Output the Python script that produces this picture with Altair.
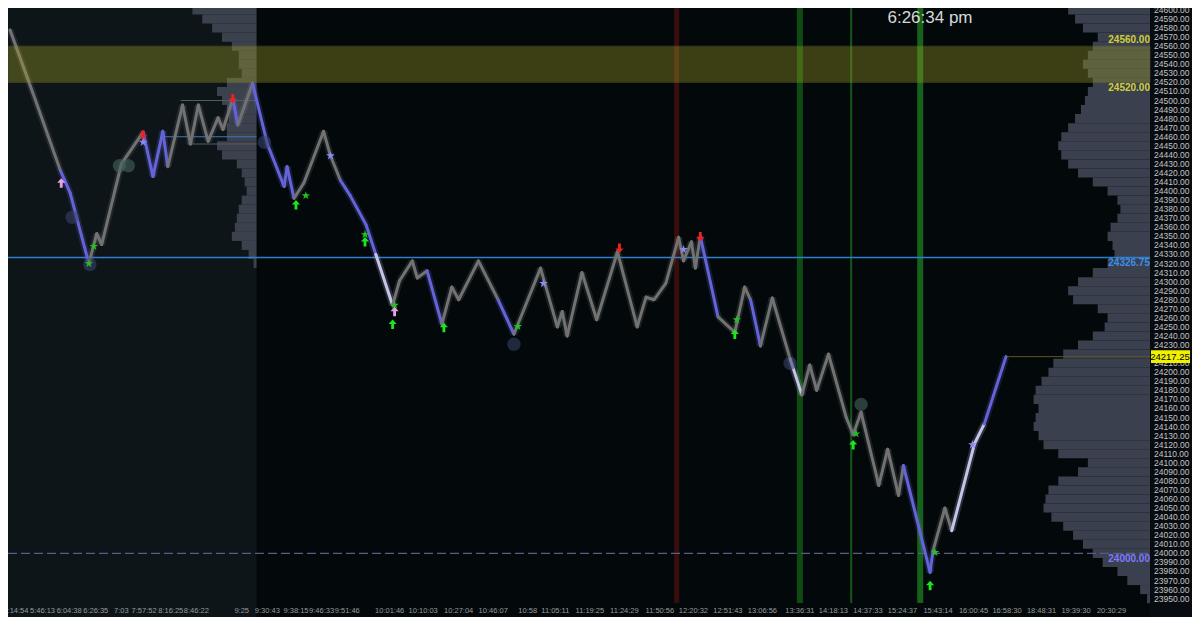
import altair as alt
import pandas as pd

W, H = 1142, 595
X_MAX = 1158          # last bar index shown in plot
SESSION_END = 252     # bar index where previous session ends
P_LO, P_HI = 23945.2, 24602.15
FONT = "Liberation Sans"

# ---------------- price path (pivot bars) ----------------
PATH_X = [2, 25, 53, 63, 82, 90, 95, 115, 137, 147, 157, 162, 177, 185, 193, 203, 213, 218, 228, 233,
          248, 263, 280, 283, 290, 300, 320, 327, 337, 347, 363, 373, 390, 397, 410, 415, 425, 440, 450, 457,
          477, 497, 513, 540, 557, 562, 567, 582, 597, 618, 638, 647, 655, 667, 680, 685, 693, 697, 702, 720,
          737, 747, 753, 763, 775, 793, 805, 813, 820, 832, 850, 857, 865, 883, 892, 903, 908, 935, 938, 950,
          957, 980, 990, 1012]
PATH_P = [24578, 24509, 24423, 24398, 24320, 24353, 24341, 24430, 24465, 24416, 24466, 24427, 24495, 24452,
          24495, 24455, 24481, 24468, 24502, 24473, 24519, 24452, 24405, 24427, 24392, 24409, 24466, 24439,
          24412, 24395, 24363, 24330, 24274, 24301, 24323, 24304, 24312, 24253, 24294, 24280, 24323, 24280,
          24242, 24315, 24250, 24267, 24240, 24310, 24258, 24333, 24250, 24283, 24280, 24298, 24349, 24323,
          24344, 24315, 24350, 24261, 24244, 24294, 24280, 24229, 24282, 24215, 24175, 24208, 24180, 24220,
          24150, 24131, 24156, 24075, 24115, 24064, 24097, 23979, 24003, 24050, 24025, 24121, 24143, 24217.25]
SEG_KIND = list("ggbbggggbb" "bgggggggbg" "bbbbggggbb" "bwggggbggg" "gbgggggggg"
                "ggggggggbg" "ggbggwgggg" "ggggggbbgg" "wwb")

# ---------------- signals ----------------
UP_PINK_X = [54, 392]
UP_PINK_P = [24409, 24267]
UP_GREEN_X = [292, 362, 390, 442, 737, 857, 935]
UP_GREEN_P = [24385, 24344, 24253, 24249.5, 24242, 24120, 23964.5]
DN_RED_X = [137, 228, 620, 702]
DN_RED_P = [24462, 24502, 24337, 24349.5]
STAR_G_X = [82, 87, 302, 362, 392, 517, 739, 860, 940]
STAR_G_P = [24320, 24339, 24395, 24352, 24274, 24250.5, 24258, 24132, 24001]
STAR_L_X = [137, 327, 543, 685, 978]
STAR_L_P = [24454, 24439, 24298, 24335.5, 24120]
CIRC_B_X = [65, 83, 260, 513, 793]
CIRC_B_P = [24371, 24319, 24454, 24231, 24210]
CIRC_T_X = [113, 122, 865]
CIRC_T_P = [24428, 24428, 24164.5]

# ---------------- volume profiles ----------------
LEFT_P = list(range(24600, 24310, -10))
LEFT_W = [65, 55, 45, 35, 25, 18, 18, 15, 30, 40, 35, 30, 28, 30, 30, 40, 35, 20, 15, 12, 10, 15, 18, 20,
          22, 25, 15, 8, 3]
RIGHT_P = list(range(24600, 23940, -10))
RIGHT_W = [83, 76, 68, 53, 58, 63, 68, 63, 58, 63, 66, 70, 76, 83, 90, 93, 90, 83, 73, 58,
           43, 33, 30, 33, 40, 43, 38, 36, 43, 58, 73, 83, 78, 53, 43, 46, 58, 73, 88, 98,
           103, 110, 116, 118, 113, 116, 118, 113, 108, 93, 63, 73, 93, 103, 106, 108, 100, 88, 78, 68,
           58, 48, 33, 23, 10, 3]

# ---------------- levels ----------------
ZONE_HI, ZONE_LO = 24560, 24520
BLUE_LEVEL = 24326.75
ROUND_LEVEL = 24000
LAST_PRICE = 24217.25
SHORT_LEVELS_P = [24460, 24500, 24452]
SHORT_LEVELS_X = [155, 175, 182]
SHORT_LEVELS_C = ["#3a7ac0", "#555a60", "#555a60"]

VLINE_X = [678, 803, 855, 925]
VLINE_C = ["#3a0d0d", "#0f4a12", "#17561a", "#17621a"]
VLINE_W = [5, 6, 2, 6]

# ---------------- axis ticks ----------------
TICK_POS = [8, 35, 62, 89, 115, 138, 165, 191, 237, 263, 292, 318, 344, 387, 421, 457, 492, 527, 555,
            590, 625, 661, 695, 730, 765, 803, 837, 872, 907, 943, 979, 1013, 1048, 1083, 1119]
TICK_LBL = ["5:14:54", "5:46:13", "6:04:38", "6:26:35", "7:03", "7:57:52", "8:16:25", "8:46:22", "9:25",
            "9:30:43", "9:38:15", "9:46:33", "9:51:46", "10:01:46", "10:10:03", "10:27:04", "10:46:07",
            "10:58", "11:05:11", "11:19:25", "11:24:29", "11:50:56", "12:20:32", "12:51:43", "13:06:56",
            "13:36:31", "14:18:13", "14:37:33", "15:24:37", "15:43:14", "16:00:45", "16:58:30", "18:48:31",
            "19:39:30", "20:30:29"]
PRICE_TICKS = list(range(23950, 24601, 10))
CLOCK = "6:26:34 pm"

# ======================================================
STAR = ("M0,-1L0.2245,-0.309L0.951,-0.309L0.363,0.118L0.588,0.809L0,0.382L-0.588,0.809"
        "L-0.363,0.118L-0.951,-0.309L-0.2245,-0.309Z")
ARROW_UP = "M0,-1L0.85,-0.05L0.3,-0.05L0.3,1L-0.3,1L-0.3,-0.05L-0.85,-0.05Z"
ARROW_DN = "M0,1L0.85,0.05L0.3,0.05L0.3,-1L-0.3,-1L-0.3,0.05L-0.85,0.05Z"

XS = alt.Scale(domain=[0, X_MAX], nice=False, zero=False)
YS = alt.Scale(domain=[P_LO, P_HI], nice=False, zero=False)


def X(f="x"):
    return alt.X(f"{f}:Q", scale=XS, axis=None, title=None)


def Y(f="p"):
    return alt.Y(f"{f}:Q", scale=YS, axis=None, title=None)


# session background and price-scale column
sess = alt.Chart(pd.DataFrame({"x": [0], "x2": [SESSION_END]})).mark_rect(color="#0e1519").encode(
    x=X(), x2="x2:Q", y=alt.value(0), y2=alt.value(H + 14))
col = alt.Chart(pd.DataFrame({"t": ["scale"]})).mark_rect(color="#080b10").encode(
    x=alt.value(W), x2=alt.value(W + 42), y=alt.value(0), y2=alt.value(H + 14))

# profiles
lp = pd.DataFrame({"x": [SESSION_END - w for w in LEFT_W], "x2": [SESSION_END] * len(LEFT_W),
                   "p": [p + 5 for p in LEFT_P], "p2": [p - 5 for p in LEFT_P]})
rp = pd.DataFrame({"x": [X_MAX - w for w in RIGHT_W], "x2": [X_MAX] * len(RIGHT_W),
                   "p": [p + 5 for p in RIGHT_P], "p2": [p - 5 for p in RIGHT_P]})
lprof = alt.Chart(lp).mark_rect(color="#3c414e").encode(x=X(), x2="x2:Q", y=Y(), y2="p2:Q")
rprof = alt.Chart(rp).mark_rect(color="#3b404e").encode(x=X(), x2="x2:Q", y=Y(), y2="p2:Q")

# vertical session markers
vl = pd.DataFrame({"x": VLINE_X, "c": VLINE_C, "w": VLINE_W})
vlines = alt.Chart(vl).mark_rule().encode(
    x=X(), y=alt.value(0), y2=alt.value(H),
    color=alt.Color("c:N", scale=None), strokeWidth=alt.StrokeWidth("w:Q", scale=None))

# horizontal levels
blue = alt.Chart(pd.DataFrame({"x": [0], "x2": [X_MAX], "p": [BLUE_LEVEL]})).mark_rule(
    color="#2f7fd0", strokeWidth=1.5).encode(x=X(), x2="x2:Q", y=Y())
dashed = alt.Chart(pd.DataFrame({"x": [0], "x2": [X_MAX], "p": [ROUND_LEVEL]})).mark_rule(
    color="#5a5a8c", strokeWidth=1.2, strokeDash=[9, 4]).encode(x=X(), x2="x2:Q", y=Y())
last = alt.Chart(pd.DataFrame({"x": [PATH_X[-1]], "x2": [X_MAX], "p": [LAST_PRICE]})).mark_rule(
    color="#5e5220", strokeWidth=1).encode(x=X(), x2="x2:Q", y=Y())
short = alt.Chart(pd.DataFrame({"x": SHORT_LEVELS_X, "x2": [SESSION_END] * 3, "p": SHORT_LEVELS_P,
                                "c": SHORT_LEVELS_C})).mark_rule(strokeWidth=1.2).encode(
    x=X(), x2="x2:Q", y=Y(), color=alt.Color("c:N", scale=None))

# path (halo for the bar wicks + core)
seg = pd.DataFrame({"x": PATH_X[:-1], "p": PATH_P[:-1], "x2": PATH_X[1:], "p2": PATH_P[1:], "k": SEG_KIND})
KSCALE = alt.Scale(domain=["g", "b", "w"], range=["#727272", "#6464d8", "#c4c4ea"])
halo = alt.Chart(seg).mark_rule(strokeWidth=7, strokeCap="butt", opacity=0.2).encode(
    x=X(), y=Y(), x2="x2:Q", y2="p2:Q", color=alt.Color("k:N", scale=KSCALE, legend=None))
path = alt.Chart(seg).mark_rule(strokeWidth=3, strokeCap="round").encode(
    x=X(), y=Y(), x2="x2:Q", y2="p2:Q", color=alt.Color("k:N", scale=KSCALE, legend=None))

# zone band (on top, translucent)
band = alt.Chart(pd.DataFrame({"x": [0], "x2": [X_MAX], "p": [ZONE_HI], "p2": [ZONE_LO]})).mark_rect(
    color="#a0a024", opacity=0.36, stroke="#8c8c2c", strokeWidth=1, strokeOpacity=0.9).encode(
    x=X(), x2="x2:Q", y=Y(), y2="p2:Q")

# circles
cb = alt.Chart(pd.DataFrame({"x": CIRC_B_X, "p": CIRC_B_P})).mark_circle(
    size=180, color="#3a4470", opacity=0.55).encode(x=X(), y=Y())
ct = alt.Chart(pd.DataFrame({"x": CIRC_T_X, "p": CIRC_T_P})).mark_circle(
    size=180, color="#44625e", opacity=0.6).encode(x=X(), y=Y())


def pts(xs, ps, shape, color, size):
    return alt.Chart(pd.DataFrame({"x": xs, "p": ps})).mark_point(
        shape=shape, filled=True, color=color, size=size, opacity=1, strokeWidth=0).encode(x=X(), y=Y())


up_pink = pts(UP_PINK_X, UP_PINK_P, ARROW_UP, "#e6a2e6", 90)
up_green = pts(UP_GREEN_X, UP_GREEN_P, ARROW_UP, "#1ee61e", 90)
dn_red = pts(DN_RED_X, DN_RED_P, ARROW_DN, "#f02020", 90)
star_g = pts(STAR_G_X, STAR_G_P, STAR, "#22c022", 80)
star_l = pts(STAR_L_X, STAR_L_P, STAR, "#8a8af2", 85)

# axis labels drawn as text through the scales
xlab = alt.Chart(pd.DataFrame({"x": TICK_POS, "t": TICK_LBL})).mark_text(
    font=FONT, fontSize=7.5, color="#9a9a9a", align="center", baseline="middle").encode(
    x=X(), y=alt.value(H + 8), text="t:N")
ylab = alt.Chart(pd.DataFrame({"p": PRICE_TICKS})).mark_text(
    font=FONT, fontSize=8.5, color="#c4c4c4", align="left", baseline="middle").encode(
    x=alt.value(W + 4), y=Y(), text=alt.Text("p:Q", format=".2f"))

# price tags
tag_top = alt.Chart(pd.DataFrame({"x": [X_MAX], "p": [ZONE_HI], "t": ["24560.00"]})).mark_text(
    align="right", baseline="bottom", font=FONT, fontSize=10, fontWeight="bold", color="#cfcf3a", dy=-1).encode(
    x=X(), y=Y(), text="t:N")
tag_df = pd.DataFrame({"x": [X_MAX] * 3, "p": [ZONE_LO, BLUE_LEVEL, ROUND_LEVEL],
                       "t": ["24520.00", "24326.75", "24000.00"],
                       "c": ["#cfcf3a", "#3d8fe8", "#7b7bff"]})
tag_bot = alt.Chart(tag_df).mark_text(align="right", baseline="top", font=FONT, fontSize=10,
                                      fontWeight="bold", dy=1).encode(
    x=X(), y=Y(), text="t:N", color=alt.Color("c:N", scale=None))
last_box = alt.Chart(pd.DataFrame({"p": [LAST_PRICE + 7], "p2": [LAST_PRICE - 7]})).mark_rect(
    color="#f0f000").encode(x=alt.value(W + 1), x2=alt.value(W + 40), y=Y(), y2="p2:Q")
last_txt = alt.Chart(pd.DataFrame({"p": [LAST_PRICE], "t": ["24217.25"]})).mark_text(
    align="center", baseline="middle", font=FONT, fontSize=9.5, color="#000000").encode(
    x=alt.value(W + 20), y=Y(), text="t:N")

clock = alt.Chart(pd.DataFrame({"t": [CLOCK]})).mark_text(
    font=FONT, fontSize=17, color="#d8d8d8", align="center", baseline="middle").encode(
    x=alt.value(round(W * 935 / X_MAX)), y=alt.value(10), text="t:N")

chart = alt.layer(
    sess, col, lprof, rprof, vlines, short, blue, dashed, last, halo, path, band, cb, ct,
    up_pink, up_green, dn_red, star_g, star_l, xlab, ylab, tag_top, tag_bot, last_box, last_txt, clock
).properties(
    width=W, height=H, autosize="none",
    padding={"left": 0, "top": 0, "right": 42, "bottom": 14},
    background="#03090b"
).configure_view(stroke=None)

chart.save("out.html", embed_options={"renderer": "svg", "actions": False})
